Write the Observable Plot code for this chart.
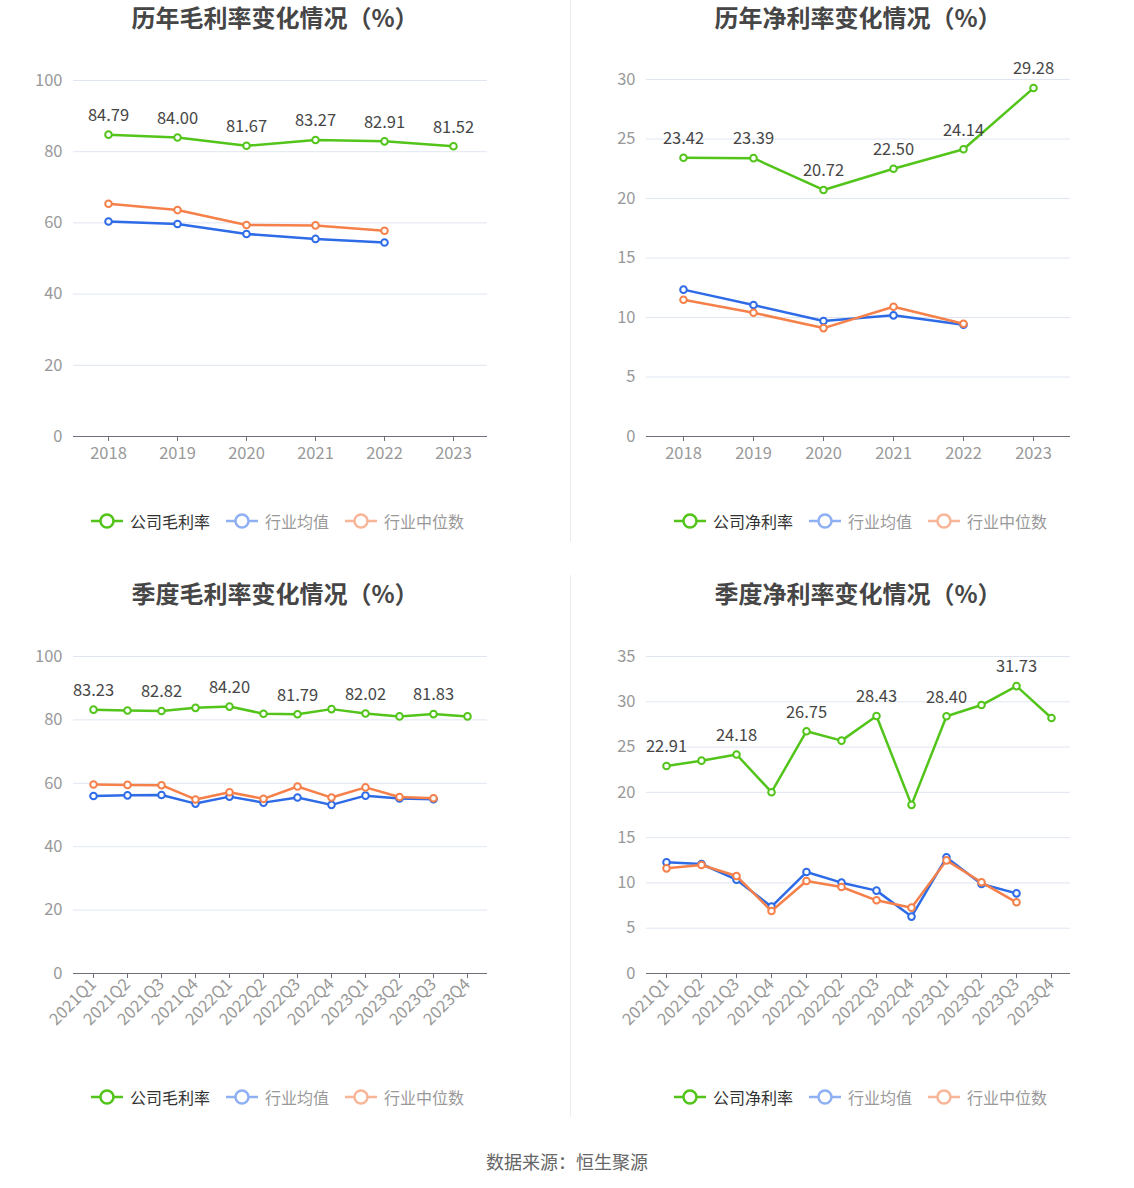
<!DOCTYPE html>
<html><head><meta charset="utf-8">
<script src="https://cdn.jsdelivr.net/npm/d3@7"></script>
<script src="https://cdn.jsdelivr.net/npm/@observablehq/plot@0.6"></script>
<style>
body{margin:0;background:#fff;font-family:"Noto Sans CJK SC","Noto Sans",sans-serif;}
#root{position:relative;width:1134px;height:1188px;overflow:hidden;}
.title{position:absolute;font-size:24px;font-weight:bold;color:#464646;transform:translateX(-50%);white-space:nowrap;line-height:28px;}
.legend{position:absolute;display:flex;align-items:center;font-size:16px;white-space:nowrap;transform:translate(-50%,-50%);}
.legend .item{display:flex;align-items:center;margin-right:15px;}
.legend .item svg{margin-right:6px;}
.divider{position:absolute;width:1px;background:#ececec;}
.source{position:absolute;left:567px;top:1148px;transform:translateX(-50%);font-size:18px;color:#666;line-height:26px;}
.plot{position:absolute;}
</style></head>
<body><div id="root"></div>
<script>
const years = ["2018","2019","2020","2021","2022","2023"];
const quarters = ["2021Q1","2021Q2","2021Q3","2021Q4","2022Q1","2022Q2","2022Q3","2022Q4","2023Q1","2023Q2","2023Q3","2023Q4"];

const annualGrossCompany = [84.79,84.00,81.67,83.27,82.91,81.52];
const annualGrossMean    = [60.4,59.7,56.9,55.5,54.5,null];
const annualGrossMedian  = [65.4,63.6,59.4,59.3,57.8,null];

const annualNetCompany = [23.42,23.39,20.72,22.50,24.14,29.28];
const annualNetMean    = [12.34,11.05,9.70,10.18,9.39,null];
const annualNetMedian  = [11.49,10.40,9.11,10.90,9.48,null];

const quarterGrossCompany = [83.23,82.95,82.82,83.8,84.20,81.95,81.79,83.4,82.02,81.1,81.83,81.1];
const quarterGrossMean    = [56.0,56.2,56.3,53.6,55.8,53.9,55.5,53.2,56.1,55.2,55.0,null];
const quarterGrossMedian  = [59.6,59.5,59.4,54.9,57.2,55.1,59.0,55.5,58.7,55.7,55.3,null];

const quarterNetCompany = [22.91,23.50,24.18,20.02,26.75,25.71,28.43,18.62,28.40,29.64,31.73,28.21];
const quarterNetMean    = [12.27,12.09,10.36,7.38,11.20,10.03,9.15,6.28,12.82,9.88,8.85,null];
const quarterNetMedian  = [11.61,11.98,10.76,6.90,10.21,9.55,8.08,7.27,12.49,10.07,7.86,null];

const grossTicks = [0,20,40,60,80,100];
const netAnnualTicks = [0,5,10,15,20,25,30];
const netQuarterTicks = [0,5,10,15,20,25,30,35];

const GREEN = "#52c41a", BLUE = "#2e6be6", ORANGE = "#f5804a";
const root = document.getElementById("root");

function rows(cats, vals){ return cats.map((c,i)=>({c, v: vals[i], i})).filter(d=>d.v!=null); }

function chart({cats, company, mean, median, ticks, domain, left, top, height, mL, mR, mT, mB, rotate, labelEvery}){
  const series = [[mean, BLUE],[median, ORANGE],[company, GREEN]];
  const marks = [
    Plot.gridY(ticks, {stroke:"#e0e6f1", strokeOpacity:1}),
    Plot.axisY(ticks, {tickSize:0, tickPadding:11, label:null, fill:"#999", fontSize:16.5}),
    Plot.ruleY([0], {stroke:"#6e7079", strokeWidth:1.2}),
    Plot.axisX(cats, rotate ? {tickSize:5, tickPadding:3, tickRotate:-45, label:null, stroke:"#6e7079", fill:"#999", fontSize:16.5}
                           : {tickSize:5, tickPadding:6, label:null, stroke:"#6e7079", fill:"#999", fontSize:16.5})
  ];
  for (const [vals, col] of series){
    const d = rows(cats, vals);
    marks.push(Plot.line(d, {x:"c", y:"v", stroke:col, strokeWidth:2.5}));
    marks.push(Plot.dot(d, {x:"c", y:"v", r:3.3, fill:"white", stroke:col, strokeWidth:2}));
  }
  const lab = rows(cats, company).filter(d => d.i % labelEvery === 0);
  marks.push(Plot.text(lab, {x:"c", y:"v", text:d=>d.v.toFixed(2), dy:-19, fill:"#464646", fontSize:16.5}));
  const svg = Plot.plot({
    width:567, height, marginLeft:mL, marginRight:mR, marginTop:mT, marginBottom:mB,
    x:{type:"point", domain:cats, padding:0.5},
    y:{domain},
    style:{fontFamily:'"Noto Sans CJK SC","Noto Sans",sans-serif', fontSize:"16px", background:"transparent", overflow:"visible"},
    marks
  });
  svg.classList.add("plot");
  svg.style.left = left+"px"; svg.style.top = top+"px";
  root.appendChild(svg);
}

function title(text, cx, top){
  const d = document.createElement("div"); d.className="title"; d.textContent=text;
  d.style.left=cx+"px"; d.style.top=top+"px"; root.appendChild(d);
}
function icon(col){
  return `<svg width="34" height="16"><line x1="1" y1="8" x2="33" y2="8" stroke="${col}" stroke-width="2.5"/><circle cx="17" cy="8" r="6.5" fill="white" stroke="${col}" stroke-width="2.5"/></svg>`;
}
function legend(name, cx, cy){
  const d = document.createElement("div"); d.className="legend";
  d.style.left=cx+"px"; d.style.top=cy+"px";
  d.innerHTML = `<div class="item">${icon(GREEN)}<span style="color:#333">${name}</span></div>`+
    `<div class="item">${icon("#8fb1f3")}<span style="color:#999">行业均值</span></div>`+
    `<div class="item" style="margin-right:0">${icon("#f8b597")}<span style="color:#999">行业中位数</span></div>`;
  root.appendChild(d);
}
function divider(x, y1, y2){
  const d = document.createElement("div"); d.className="divider";
  d.style.left=x+"px"; d.style.top=y1+"px"; d.style.height=(y2-y1)+"px"; root.appendChild(d);
}

divider(570, 0, 542);
divider(570, 575, 1117);

title("历年毛利率变化情况（%）", 275, 3);
title("历年净利率变化情况（%）", 858, 3);
title("季度毛利率变化情况（%）", 275, 579);
title("季度净利率变化情况（%）", 858, 579);

chart({cats:years, company:annualGrossCompany, mean:annualGrossMean, median:annualGrossMedian,
  ticks:grossTicks, domain:[0,100], left:0, top:40, height:440, mL:73, mR:80, mT:40, mB:44, rotate:false, labelEvery:1});
chart({cats:years, company:annualNetCompany, mean:annualNetMean, median:annualNetMedian,
  ticks:netAnnualTicks, domain:[0,30], left:567, top:40, height:440, mL:79, mR:64, mT:39, mB:44, rotate:false, labelEvery:1});
chart({cats:quarters, company:quarterGrossCompany, mean:quarterGrossMean, median:quarterGrossMedian,
  ticks:grossTicks, domain:[0,100], left:0, top:616, height:430, mL:73, mR:80, mT:40, mB:73, rotate:true, labelEvery:2});
chart({cats:quarters, company:quarterNetCompany, mean:quarterNetMean, median:quarterNetMedian,
  ticks:netQuarterTicks, domain:[0,35], left:567, top:616, height:430, mL:79, mR:64, mT:40, mB:73, rotate:true, labelEvery:2});

legend("公司毛利率", 277, 521);
legend("公司净利率", 860, 521);
legend("公司毛利率", 277, 1097);
legend("公司净利率", 860, 1097);

const s = document.createElement("div"); s.className="source"; s.textContent="数据来源：恒生聚源"; root.appendChild(s);
</script></body></html>
